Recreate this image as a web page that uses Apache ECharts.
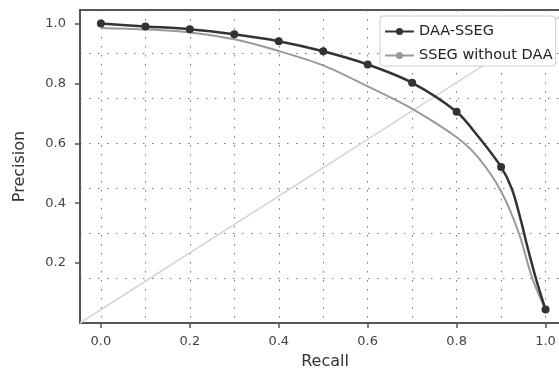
<!DOCTYPE html>
<html>
<head>
<meta charset="utf-8">
<title>Precision-Recall</title>
<script src="https://cdn.jsdelivr.net/npm/echarts@6/dist/echarts.min.js"></script>
<style>
  html, body { margin: 0; padding: 0; background: #fff; }
  #chart { width: 559px; height: 370px; }
</style>
</head>
<body>
<div id="chart"></div>
<script>
// marked points of DAA-SSEG (one marker every 0.1 recall)
const daaRecall = [0.0, 0.1, 0.2, 0.3, 0.4, 0.5, 0.6, 0.7, 0.8, 0.9, 1.0];
const daaPrecision = [1.0, 0.99, 0.981, 0.964, 0.941, 0.907, 0.863, 0.802, 0.705, 0.521, 0.045];
// unmarked points that give the curve its shape near recall = 1
const daaExtraRecall = [0.85, 0.925, 0.945, 0.96, 0.98];
const daaExtraPrecision = [0.62, 0.445, 0.34, 0.25, 0.14];

// SSEG without DAA (plain line)
const ssegRecall = [0.0, 0.1, 0.2, 0.3, 0.4, 0.5, 0.6, 0.7, 0.8, 0.85, 0.9, 0.94, 0.97, 1.0];
const ssegPrecision = [0.985, 0.98, 0.97, 0.947, 0.908, 0.86, 0.79, 0.715, 0.62, 0.55, 0.44, 0.30, 0.15, 0.045];

// axis ranges and ticks
const xMin = -0.047, xMax = 1.055;
const yMin = 0, yMax = 1.045;
const xTicks = [0, 0.2, 0.4, 0.6, 0.8, 1.0];
const xGrid = [0, 0.1, 0.2, 0.3, 0.4, 0.5, 0.6, 0.7, 0.8, 0.9, 1.0];
const yTicks = [0.2, 0.4, 0.6, 0.8, 1.0];
const yGrid = [0.15, 0.3, 0.45, 0.6, 0.75, 0.9];

const daaData = [];
daaRecall.forEach((r, i) => daaData.push({ value: [r, daaPrecision[i]] }));
daaExtraRecall.forEach((r, i) => daaData.push({ value: [r, daaExtraPrecision[i]], symbol: 'none' }));
daaData.sort((a, b) => a.value[0] - b.value[0]);

const ssegData = ssegRecall.map((r, i) => [r, ssegPrecision[i]]);
const diagData = [[xMin, yMin], [xMax, yMax]];

const font = 'DejaVu Sans';
const axisColor = '#555';
const gridLine = { show: true, lineStyle: { color: '#777', width: 1, type: [1.5, 7.5] } };

const chart = echarts.init(document.getElementById('chart'));
chart.setOption({
  animation: false,
  textStyle: { fontFamily: font },
  grid: {
    left: 80, top: 10, width: 490, height: 313,
    outerBoundsMode: 'none',
    containLabel: false,
    show: true, borderColor: axisColor, borderWidth: 2, backgroundColor: '#fff'
  },
  legend: {
    data: ['DAA-SSEG', 'SSEG without DAA'],
    orient: 'vertical',
    left: 380, top: 16,
    padding: [8, 3, 3, 4],
    itemGap: 9,
    itemWidth: 29,
    itemHeight: 9,
    borderColor: '#ccc',
    borderWidth: 1,
    borderRadius: 3,
    backgroundColor: '#fff',
    textStyle: { fontFamily: font, fontSize: 14.5, color: '#222' }
  },
  xAxis: [
    {
      type: 'value', min: xMin, max: xMax,
      name: 'Recall', nameLocation: 'middle', nameGap: 31,
      nameTextStyle: { fontFamily: font, fontSize: 16, color: '#333' },
      axisLine: { show: true, onZero: false, lineStyle: { color: axisColor, width: 2 } },
      axisTick: { show: true, customValues: xTicks, length: 5, lineStyle: { color: axisColor, width: 1.5 } },
      axisLabel: { customValues: xTicks, margin: 12, fontSize: 13, color: '#444', formatter: v => v.toFixed(1) },
      splitLine: { show: false }
    },
    {
      type: 'value', min: xMin, max: xMax, position: 'bottom',
      axisLine: { show: false, onZero: false },
      axisTick: { show: false, customValues: xGrid },
      axisLabel: { show: false },
      splitLine: gridLine
    }
  ],
  yAxis: [
    {
      type: 'value', min: yMin, max: yMax,
      name: 'Precision', nameLocation: 'middle', nameGap: 52,
      nameTextStyle: { fontFamily: font, fontSize: 16, color: '#333' },
      axisLine: { show: true, onZero: false, lineStyle: { color: axisColor, width: 2 } },
      axisTick: { show: true, customValues: yTicks, length: 5, lineStyle: { color: axisColor, width: 1.5 } },
      axisLabel: { customValues: yTicks, margin: 14, fontSize: 13, color: '#444', formatter: v => v.toFixed(1) },
      splitLine: { show: false }
    },
    {
      type: 'value', min: yMin, max: yMax, position: 'left',
      axisLine: { show: false, onZero: false },
      axisTick: { show: false, customValues: yGrid },
      axisLabel: { show: false },
      splitLine: gridLine
    }
  ],
  series: [
    {
      name: 'diagonal', type: 'line', data: diagData,
      symbol: 'none', silent: true,
      lineStyle: { color: '#d6d6d6', width: 1.5 },
      z: 1
    },
    {
      name: 'SSEG without DAA', type: 'line', data: ssegData,
      symbol: 'none', smooth: 0.3,
      itemStyle: { color: '#9a9a9a' },
      lineStyle: { color: '#9a9a9a', width: 2 },
      z: 2
    },
    {
      name: 'DAA-SSEG', type: 'line', data: daaData,
      symbol: 'circle', symbolSize: 8, smooth: 0.3,
      itemStyle: { color: '#333' },
      lineStyle: { color: '#333', width: 2.5 },
      z: 3
    }
  ]
});
</script>
</body>
</html>
